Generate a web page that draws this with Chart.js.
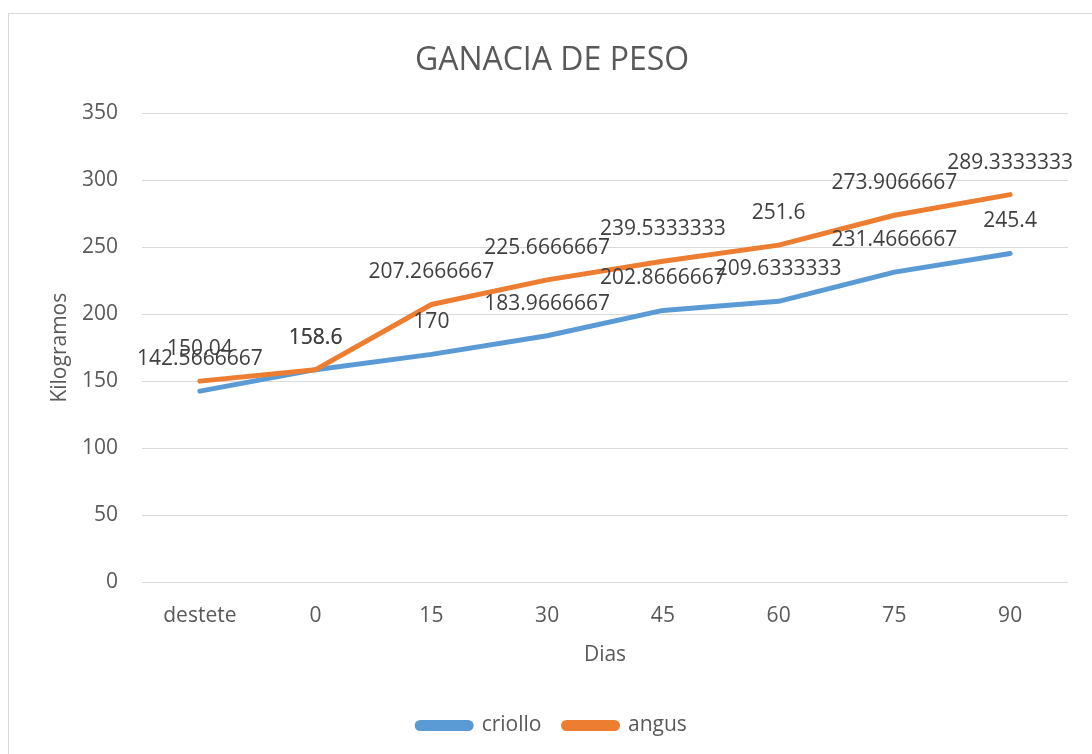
<!DOCTYPE html>
<html>
<head>
<meta charset="utf-8">
<script src="https://cdn.jsdelivr.net/npm/chart.js@4.4.1/dist/chart.umd.min.js"></script>
<style>
  html, body { margin: 0; padding: 0; background: #fff; }
  #wrap { position: relative; width: 1092px; height: 754px; overflow: hidden; }
  #frame { position: absolute; left: 8px; top: 13px; width: 1200px; height: 900px;
           border: 1px solid #d9d9d9; box-sizing: border-box; }
  canvas { position: absolute; left: 0; top: 0; }
</style>
</head>
<body>
<div id="wrap">
  <div id="frame"></div>
  <canvas id="pesoChart" width="1092" height="754"></canvas>
</div>
<script>
// Ganancia de peso por dias
const dias = ['destete', '0', '15', '30', '45', '60', '75', '90'];
const criollo = [142.5666667, 158.6, 170, 183.9666667, 202.8666667, 209.6333333, 231.4666667, 245.4];
const angus = [150.04, 158.6, 207.2666667, 225.6666667, 239.5333333, 251.6, 273.9066667, 289.3333333];
const yTicks = [0, 50, 100, 150, 200, 250, 300, 350];

const FONT = "'Open Sans', 'Liberation Sans', sans-serif";
const GRAY = '#595959';

// value labels above each point
const pointLabels = {
    id: 'pointLabels',
    afterDatasetsDraw(chart) {
        const ctx = chart.ctx;
        ctx.save();
        ctx.font = '21px ' + FONT;
        ctx.fillStyle = '#404040';
        ctx.textAlign = 'center';
        ctx.textBaseline = 'middle';
        chart.data.datasets.forEach((ds, i) => {
            const meta = chart.getDatasetMeta(i);
            meta.data.forEach((pt, j) => {
                ctx.fillText(String(ds.data[j]), pt.x, pt.y - 32);
            });
        });
        ctx.restore();
    }
};

new Chart(document.getElementById('pesoChart'), {
    type: 'line',
    data: {
        labels: dias,
        datasets: [
            {
                label: 'criollo',
                data: criollo,
                borderColor: '#5b9bd5',
                backgroundColor: '#5b9bd5',
                order: 1
            },
            {
                label: 'angus',
                data: angus,
                borderColor: '#ed7d31',
                backgroundColor: '#ed7d31',
                order: 0
            }
        ]
    },
    options: {
        responsive: false,
        animation: false,
        layout: { padding: { left: 36, right: 24, top: 0, bottom: 8 } },
        elements: {
            line: { borderWidth: 5, tension: 0, borderCapStyle: 'round', borderJoinStyle: 'round' },
            point: { radius: 0, hoverRadius: 0 }
        },
        scales: {
            x: {
                offset: true,
                grid: { display: false, drawTicks: false, offset: true },
                border: { display: false },
                ticks: { color: GRAY, font: { family: FONT, size: 21 }, padding: 21 },
                title: { display: true, text: 'Dias', color: GRAY, font: { family: FONT, size: 21 },
                         padding: { top: 0, bottom: 25 } },
                afterFit: s => { s.height = 111; }
            },
            y: {
                min: 0,
                max: 350,
                afterBuildTicks: s => { s.ticks = yTicks.map(v => ({ value: v })); },
                grid: { color: '#d9d9d9', lineWidth: 1, drawTicks: false },
                border: { display: false },
                ticks: { color: GRAY, font: { family: FONT, size: 21 }, padding: 24 },
                title: { display: true, text: 'Kilogramos', color: GRAY, font: { family: FONT, size: 21 },
                         padding: { top: 11, bottom: 0 } },
                afterFit: s => { s.width = 106; }
            }
        },
        plugins: {
            title: {
                display: true,
                text: 'GANACIA DE PESO',
                color: GRAY,
                font: { family: FONT, size: 32, weight: 'normal' },
                padding: { top: 42, bottom: 33 }
            },
            legend: {
                position: 'bottom',
                labels: {
                    color: GRAY,
                    font: { family: FONT, size: 21 },
                    boxWidth: 54,
                    boxHeight: 6,
                    useBorderRadius: true,
                    borderRadius: 3,
                    padding: 22,
                    sort: (a, b) => a.datasetIndex - b.datasetIndex
                }
            },
            tooltip: { enabled: false }
        }
    },
    plugins: [pointLabels]
});
</script>
</body>
</html>
